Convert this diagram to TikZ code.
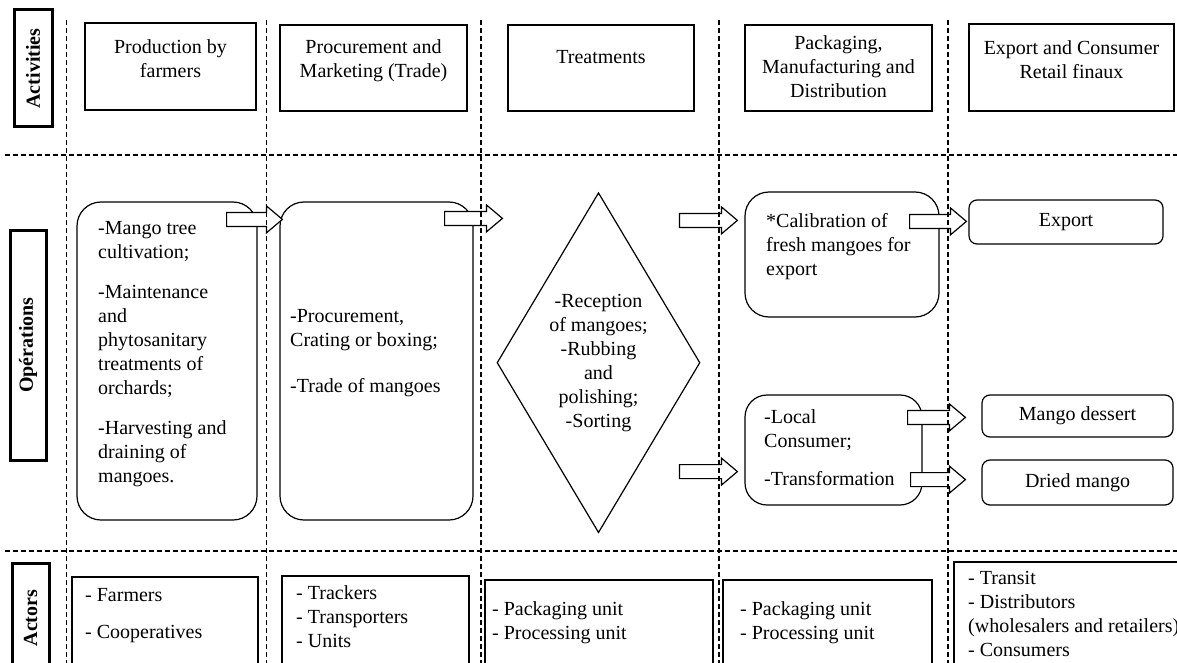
\documentclass[tikz,border=0pt]{standalone}
\usepackage{fontspec}
\setmainfont{Liberation Serif}
\usetikzlibrary{%
  shapes.geometric,% diamond
  calc,% offsets of the block arrows
}

\tikzset{%
  every node/.style={font=\fontsize{20}{24}\selectfont},
  txt/.style={inner sep=0pt, align=left},
  labelbox/.style={draw, line width=3pt, rotate=90, inner sep=0pt, font=\fontsize{20}{24}\selectfont\bfseries},
  actbox/.style={draw, line width=1.2pt, inner sep=0pt},
  opbox/.style={draw, line width=1.2pt, inner sep=0pt, rounded corners=24pt},
  outbox/.style={draw, line width=1.2pt, inner sep=0pt, rounded corners=8pt},
  fatarrow/.style={draw, line width=1.2pt, fill=white, line join=miter},
  gridline/.style={line width=1.2pt, dash pattern=on 5pt off 3pt},
}

% hollow arrow from #1 to the x of #2
\newcommand{\blockarrow}[2]{%
  \draw[fatarrow] let \p1=(#1), \p2=(#2) in
    (\x1,\y1+7pt) -- (\x2-16pt,\y1+7pt) -- (\x2-16pt,\y1+13.5pt) -- (\x2,\y1)
    -- (\x2-16pt,\y1-13.5pt) -- (\x2-16pt,\y1-7pt) -- (\x1,\y1-7pt) -- cycle;}

\begin{document}
\begin{tikzpicture}[x=1pt,y=-1pt]
        \useasboundingbox (0,0) rectangle (1177,663);

        % row titles
        \node[labelbox, minimum width=117, minimum height=38] (rowact) at (33,68.5) {Activities};
        \node[labelbox, minimum width=230, minimum height=36] (rowop) at (28,345) {Opérations};
        \node[labelbox, minimum width=110, minimum height=37] (rowactor) at (30.5,618) {Actors};

        % activities
        \node[actbox, minimum width=171, minimum height=87] (act1) at (170.5,66.5) {};
        \node[txt, align=center, anchor=north] (act1t) at (170.5,39) {Production by\\farmers};
        \node[actbox, minimum width=187, minimum height=86] (act2) at (373.5,68) {};
        \node[txt, align=center, anchor=north] (act2t) at (373.5,39) {Procurement and\\Marketing (Trade)};
        \node[actbox, minimum width=186, minimum height=86] (act3) at (601,68) {};
        \node[txt, align=center, anchor=north] (act3t) at (601,50) {Treatments};
        \node[actbox, minimum width=187, minimum height=86] (act4) at (838.5,68) {};
        \node[txt, align=center, anchor=north] (act4t) at (838.5,35) {Packaging,\\Manufacturing and\\Distribution};
        \node[actbox, minimum width=205, minimum height=87] (act5) at (1071.5,67.5) {};
        \node[txt, align=center, anchor=north] (act5t) at (1071.5,40) {Export and Consumer\\Retail finaux};

        % operations
        \node[opbox, minimum width=180, minimum height=318] (opA) at (167,361) {};
        \node[txt, anchor=north west] (opAt) at (98,221) {-Mango tree\\cultivation;\\[16pt]-Maintenance\\and\\phytosanitary\\treatments of\\orchards;\\[16pt]-Harvesting and\\draining of\\mangoes.};
        \node[opbox, minimum width=193, minimum height=318] (opB) at (376.5,361) {};
        \node[txt, anchor=north west] (opBt) at (290,309.5) {-Procurement,\\Crating or boxing;\\[22pt]-Trade of mangoes};
        \node[draw, diamond, line width=1.2pt, minimum width=203, minimum height=340, inner sep=0pt] (treat) at (598.5,362.7) {};
        \node[txt, align=center, anchor=north] (treatt) at (598.5,294.5) {-Reception\\of mangoes;\\-Rubbing\\and\\polishing;\\-Sorting};
        \node[opbox, minimum width=194, minimum height=125] (opC) at (842,254.5) {};
        \node[txt, anchor=north west] (opCt) at (766,213) {*Calibration of\\fresh mangoes for\\export};
        \node[opbox, rounded corners=22pt, minimum width=177, minimum height=110] (opD) at (833.5,450) {};
        \node[txt, anchor=north west] (opDt) at (764,409.5) {-Local\\Consumer;\\[14pt]-Transformation};
        \node[outbox, minimum width=194, minimum height=44] (outexp) at (1066,222) {Export};
        \node[outbox, minimum width=191, minimum height=42] (dessert) at (1077.5,416) {Mango dessert};
        \node[outbox, minimum width=191, minimum height=45] (dried) at (1077.5,482.5) {Dried mango};

        \blockarrow{$(opA.north east)+(-31,18)$}{$(opB.north west)+(3,0)$}
        \blockarrow{$(opB.north east)+(-29,17)$}{$(treat.west)+(6,0)$}
        \blockarrow{$(opC.north west)+(-65,29)$}{$(opC.west)+(-7,0)$}
        \blockarrow{$(opD.south west)+(-65,-34)$}{$(opD.west)+(-7,0)$}
        \blockarrow{$(opC.north east)+(-30,30)$}{$(outexp.west)+(-2,0)$}
        \blockarrow{$(opD.north east)+(-15,23)$}{$(dessert.west)+(-16,0)$}
        \blockarrow{$(opD.south east)+(-12,-26)$}{$(dried.west)+(-16,0)$}

        % actors
        \node[actbox, minimum width=186, minimum height=95] (actor1) at (165,624.5) {};
        \node[txt, anchor=north west] (actor1t) at (85,588) {- Farmers\\[13pt]- Cooperatives};
        \node[actbox, minimum width=187, minimum height=96] (actor2) at (375.5,624) {};
        \node[txt, anchor=north west] (actor2t) at (296,585.5) {- Trackers\\- Transporters\\- Units};
        \node[actbox, minimum width=228, minimum height=92] (actor3) at (599,626) {};
        \node[txt, anchor=north west] (actor3t) at (492,601) {- Packaging unit\\- Processing unit};
        \node[actbox, minimum width=209, minimum height=92] (actor4) at (827.5,626) {};
        \node[txt, anchor=north west] (actor4t) at (740,601) {- Packaging unit\\- Processing unit};
        \node[actbox, minimum width=230, minimum height=110] (actor5) at (1069,617) {};
        \node[txt, anchor=north west] (actor5t) at (968,571.5) {- Transit\\- Distributors\\(wholesalers and retailers)\\- Consumers};

        % dashed grid
        \foreach \x in {66.7,266.7,481,719,948}
          \draw[gridline] (\x,20) -- (\x,663);
        \draw[gridline] (5,155) -- (1177,155);
        \draw[gridline] (5,551) -- (1177,551);
\end{tikzpicture}
\end{document}
